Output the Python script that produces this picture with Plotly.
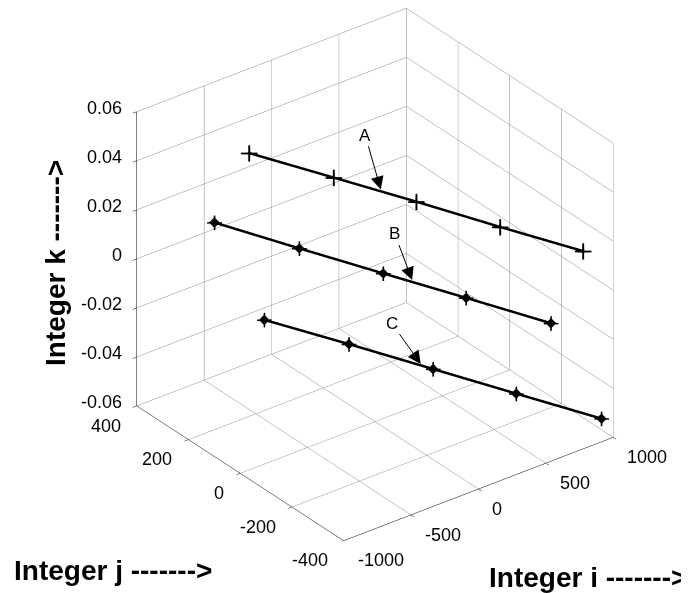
import plotly.graph_objects as go
import math

# ---------------- data ----------------
j_vals = [400, 200, 0, -200, -400]

i_A = [-168, 76, 305, 543, 775]
k_A = [0.0256, 0.0242, 0.0233, 0.0217, 0.0207]

i_B = [-425, -179, 60, 291, 537]
k_B = [0.0027, 0.0007, -0.0008, -0.0019, -0.0037]

i_C = [-55, 189, 430, 663, 912]
k_C = [-0.0448, -0.0461, -0.0476, -0.0488, -0.0505]

i_ticks = [-1000, -500, 0, 500, 1000]
j_ticks = [-400, -200, 0, 200, 400]
k_ticks = [-0.06, -0.04, -0.02, 0, 0.02, 0.04, 0.06]
k_ticktext = ["-0.06", "-0.04", "-0.02", "0", "0.02", "0.04", "0.06"]

labels = ["A", "B", "C"]

I_RANGE = [-1000, 1000]
J_RANGE = [-400, 400]
K_RANGE = [-0.06, 0.06]

FONT = "Liberation Sans, Arial, Helvetica, sans-serif"

fig = go.Figure()

def add_line(iv, kv, symbols):
    fig.add_trace(go.Scatter3d(
        x=iv, y=j_vals, z=kv, mode="lines",
        line=dict(color="black", width=5),
        hoverinfo="skip", showlegend=False))
    for sym, size in symbols:
        fig.add_trace(go.Scatter3d(
            x=iv, y=j_vals, z=kv, mode="markers",
            marker=dict(symbol=sym, size=size, color="black",
                        line=dict(width=0)),
            hoverinfo="skip", showlegend=False))

add_line(i_A, k_A, [("cross", 9), ("cross", 8)])
add_line(i_B, k_B, [("diamond", 3.5), ("cross", 8)])
add_line(i_C, k_C, [("diamond", 3.5), ("cross", 8)])

def interp(a, idx, t):
    return a[idx] + t * (a[idx + 1] - a[idx])

# arrow tips on the lines (interpolated between data points)
tips = [
    (i_A, k_A, 1, 0.58, -16, -56),
    (i_B, k_B, 2, 0.36, -18, -48),
    (i_C, k_C, 1, 0.87, -30, -42),
]
scene_ann = []
for lab, (iv, kv, idx, t, ax, ay) in zip(labels, tips):
    scene_ann.append(dict(
        x=interp(iv, idx, t), y=interp(j_vals, idx, t), z=interp(kv, idx, t),
        text=lab, showarrow=True, ax=ax, ay=ay,
        arrowhead=2, arrowsize=2.6, arrowwidth=1, arrowcolor="black",
        standoff=2, font=dict(family=FONT, size=17, color="black")))

# tick labels (horizontal, MATLAB style) placed at the tick positions
TF = dict(family=FONT, size=18, color="black")
for v in i_ticks:
    scene_ann.append(dict(x=v, y=J_RANGE[0], z=K_RANGE[0], text=str(v),
                          showarrow=False, xanchor="left", yanchor="middle",
                          xshift=12, yshift=-20, font=TF))
for v in j_ticks:
    scene_ann.append(dict(x=I_RANGE[0], y=v, z=K_RANGE[0], text=str(v),
                          showarrow=False, xanchor="right", yanchor="middle",
                          xshift=-14, yshift=-20, font=TF))
for v, s in zip(k_ticks, k_ticktext):
    scene_ann.append(dict(x=I_RANGE[0], y=J_RANGE[1], z=v, text=s,
                          showarrow=False, xanchor="right", yanchor="middle",
                          xshift=-13, yshift=4, font=TF))

axis_common = dict(
    showbackground=False, showgrid=True, gridcolor="#858585", gridwidth=1,
    zeroline=False, showline=True, linecolor="black", linewidth=1,
    ticks="outside", ticklen=5, tickcolor="black", showticklabels=False,
    showspikes=False, title=dict(text=""), autorange=False,
)

az = math.radians(37.5)
el = math.radians(30)
r = 1.575
eye = dict(x=-r * math.sin(az) * math.cos(el),
           y=-r * math.cos(az) * math.cos(el),
           z=r * math.sin(el))

S = 1.275
W, H = 689, 593
LBL = dict(family=FONT, size=28, color="black")
fig.update_layout(
    width=W, height=H,
    margin=dict(l=0, r=0, t=0, b=0),
    paper_bgcolor="white", plot_bgcolor="white",
    scene=dict(
        domain=dict(x=[0.065, 1.0], y=[0.1018, 1.0]),
        xaxis=dict(range=I_RANGE, tickvals=i_ticks, **axis_common),
        yaxis=dict(range=J_RANGE, tickvals=j_ticks, **axis_common),
        zaxis=dict(range=K_RANGE, tickvals=k_ticks, **axis_common),
        aspectmode="manual", aspectratio=dict(x=S, y=S, z=S),
        camera=dict(eye=eye, up=dict(x=0, y=0, z=1), center=dict(x=0, y=0, z=0),
                    projection=dict(type="orthographic")),
        annotations=scene_ann,
    ),
    annotations=[
        dict(text="<b>Integer i -------></b>", xref="paper", yref="paper",
             x=579.5 / W, y=1 - 569 / H, xanchor="center", yanchor="middle",
             showarrow=False, font=LBL),
        dict(text="<b>Integer j -------></b>", xref="paper", yref="paper",
             x=104.5 / W, y=1 - 562 / H, xanchor="center", yanchor="middle",
             showarrow=False, font=LBL),
        dict(text="<b>Integer k -------></b>", xref="paper", yref="paper",
             x=47 / W, y=1 - 255 / H, xanchor="center", yanchor="middle",
             showarrow=False, textangle=-90, font=LBL),
    ],
    hovermode=False,
)

fig.write_html("out.html", config=dict(displayModeBar=False))
